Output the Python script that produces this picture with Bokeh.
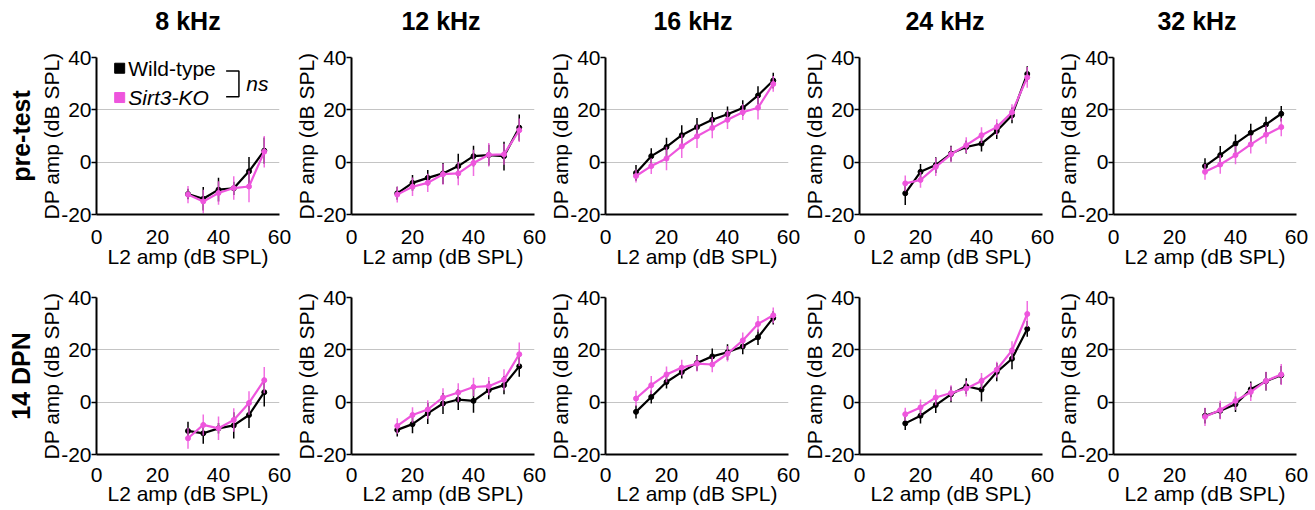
from bokeh.plotting import figure
from bokeh.layouts import row, column
from bokeh.models import Range1d, Title, ColumnDataSource, FixedTicker
from bokeh.core.properties import value
from bokeh.embed import file_html
from bokeh.resources import INLINE

# ---------------- data ----------------
freq_labels = ["8 kHz", "12 kHz", "16 kHz", "24 kHz", "32 kHz"]
row_labels = ["pre-test", "14 DPN"]
series_names = ["Wild-type", "Sirt3-KO"]
x_ticks = [0, 20, 40, 60]
y_ticks = [-20, 0, 20, 40]
y_tick_labels = ["-20", "0", "20", "40"]

x_8 = [30, 35, 40, 45, 50, 55]
x_12 = [15, 20, 25, 30, 35, 40, 45, 50, 55]
x_16 = [10, 15, 20, 25, 30, 35, 40, 45, 50, 55]
x_24 = [15, 20, 25, 30, 35, 40, 45, 50, 55]
x_32 = [30, 35, 40, 45, 50, 55]

# pre-test
wt_pre_8 = [-12.2, -14.0, -10.5, -10.0, -3.5, 4.4]
wt_pre_8_err = [2.0, 4.5, 4.5, 2.5, 5.5, 5.0]
ko_pre_8 = [-12.4, -15.0, -11.8, -9.9, -9.3, 4.0]
ko_pre_8_err = [3.3, 4.5, 4.5, 4.5, 6.0, 6.0]

wt_pre_12 = [-11.9, -7.9, -6.0, -4.3, -1.5, 2.3, 2.7, 2.3, 13.2]
wt_pre_12_err = [2.5, 3.0, 3.0, 4.0, 4.7, 4.0, 4.0, 5.5, 5.0]
ko_pre_12 = [-12.4, -9.4, -7.9, -4.6, -4.3, -0.3, 2.8, 3.0, 12.2]
ko_pre_12_err = [3.0, 3.5, 3.5, 4.0, 4.5, 5.0, 4.5, 4.0, 4.5]

wt_pre_16 = [-4.1, 2.3, 5.8, 10.3, 13.4, 16.2, 18.3, 20.7, 25.5, 31.2]
wt_pre_16_err = [3.0, 3.0, 3.5, 3.8, 3.5, 3.0, 3.0, 3.0, 3.5, 3.0]
ko_pre_16 = [-5.3, -1.5, 1.4, 6.1, 9.9, 13.1, 16.2, 19.1, 20.8, 29.9]
ko_pre_16_err = [2.5, 3.0, 4.5, 4.5, 4.5, 4.0, 3.5, 3.0, 4.5, 3.0]

wt_pre_24 = [-11.9, -3.7, -1.1, 3.3, 5.8, 7.1, 11.9, 17.9, 33.7]
wt_pre_24_err = [4.5, 3.0, 3.0, 3.0, 2.5, 3.0, 3.0, 3.0, 3.0]
ko_pre_24 = [-8.1, -6.8, -1.8, 3.0, 6.5, 10.3, 13.4, 19.1, 32.4]
ko_pre_24_err = [3.0, 3.0, 3.5, 3.0, 3.0, 3.0, 3.0, 3.0, 4.0]

wt_pre_32 = [-1.5, 2.7, 7.1, 11.2, 14.4, 18.5]
wt_pre_32_err = [3.0, 3.5, 3.5, 3.5, 3.0, 3.0]
ko_pre_32 = [-3.7, -0.9, 2.7, 6.8, 10.5, 13.4]
ko_pre_32_err = [3.0, 3.5, 3.5, 3.5, 3.5, 3.5]

# 14 DPN
wt_dpn_8 = [-11.0, -11.9, -10.0, -8.9, -4.9, 3.8]
wt_dpn_8_err = [3.5, 4.0, 2.0, 5.0, 5.0, 5.5]
ko_dpn_8 = [-13.8, -8.7, -10.0, -6.8, -0.3, 8.4]
ko_dpn_8_err = [4.0, 4.0, 4.5, 4.5, 4.5, 5.0]

wt_dpn_12 = [-10.6, -8.4, -4.3, -0.5, 1.0, 0.5, 4.6, 6.5, 13.7]
wt_dpn_12_err = [2.5, 3.5, 4.0, 4.0, 4.0, 4.5, 3.5, 3.5, 4.0]
ko_dpn_12 = [-9.1, -4.9, -2.8, 1.8, 3.7, 5.8, 6.1, 8.6, 18.3]
ko_dpn_12_err = [3.0, 3.0, 3.5, 3.5, 3.5, 3.5, 3.5, 4.0, 4.5]

wt_dpn_16 = [-3.7, 2.0, 7.7, 11.5, 15.0, 17.5, 19.1, 21.3, 24.8, 32.2]
wt_dpn_16_err = [2.5, 2.5, 2.5, 2.5, 3.0, 3.0, 3.0, 3.0, 3.0, 2.5]
ko_dpn_16 = [1.4, 6.5, 10.6, 13.2, 14.7, 14.4, 18.5, 23.6, 29.9, 33.2]
ko_dpn_16_err = [3.0, 3.5, 3.0, 3.0, 3.0, 3.0, 3.0, 3.0, 3.0, 3.0]

wt_dpn_24 = [-8.1, -5.2, -1.1, 3.0, 6.1, 4.8, 11.5, 16.6, 28.0]
wt_dpn_24_err = [2.5, 3.0, 3.0, 3.0, 3.0, 4.5, 3.5, 4.0, 3.0]
ko_dpn_24 = [-4.6, -2.0, 1.8, 3.5, 5.2, 8.1, 12.4, 19.8, 33.7]
ko_dpn_24_err = [2.5, 3.0, 3.0, 3.0, 3.0, 3.0, 3.0, 3.5, 5.0]

wt_dpn_32 = [-5.2, -3.3, -0.8, 4.9, 8.0, 10.3]
wt_dpn_32_err = [3.0, 3.0, 3.0, 3.0, 3.5, 3.5]
ko_dpn_32 = [-5.6, -3.0, 0.5, 3.9, 8.1, 10.6]
ko_dpn_32_err = [3.5, 3.5, 3.5, 3.5, 3.5, 4.0]

x_levels = [x_8, x_12, x_16, x_24, x_32]
wt_rows = [
    [(wt_pre_8, wt_pre_8_err), (wt_pre_12, wt_pre_12_err), (wt_pre_16, wt_pre_16_err),
     (wt_pre_24, wt_pre_24_err), (wt_pre_32, wt_pre_32_err)],
    [(wt_dpn_8, wt_dpn_8_err), (wt_dpn_12, wt_dpn_12_err), (wt_dpn_16, wt_dpn_16_err),
     (wt_dpn_24, wt_dpn_24_err), (wt_dpn_32, wt_dpn_32_err)],
]
ko_rows = [
    [(ko_pre_8, ko_pre_8_err), (ko_pre_12, ko_pre_12_err), (ko_pre_16, ko_pre_16_err),
     (ko_pre_24, ko_pre_24_err), (ko_pre_32, ko_pre_32_err)],
    [(ko_dpn_8, ko_dpn_8_err), (ko_dpn_12, ko_dpn_12_err), (ko_dpn_16, ko_dpn_16_err),
     (ko_dpn_24, ko_dpn_24_err), (ko_dpn_32, ko_dpn_32_err)],
]

# ---------------- style / layout ----------------
FONT = "Liberation Sans"
WT_COLOR = "#000000"
KO_COLOR = "#EE55DD"
FS = "21px"
FRAME_W = 183
FRAME_H = 157
LEFT_BORDERS = [96, 57, 57, 57, 57]
RIGHT_BORDERS = [13, 12, 12, 12, 12]
TITLE_H = 36
TITLE_CENTER = 20            # px from top of page
TOP_BORDERS = [57 - TITLE_H, 23]
BOTTOM_BORDERS = [60, 56]
X_TICK_STANDOFF = [15, 13]
X_LABEL_STANDOFF = [-2, -3]


def draw_series(p, xs, ys, errs, color, alpha):
    src = ColumnDataSource(dict(
        x=xs, y=ys,
        lo=[y - e for y, e in zip(ys, errs)],
        hi=[y + e for y, e in zip(ys, errs)],
    ))
    p.segment(x0="x", y0="lo", x1="x", y1="hi", source=src,
              line_color=color, line_width=1.5, line_alpha=alpha)
    p.line("x", "y", source=src, line_color=color, line_width=2.2)
    p.scatter("x", "y", source=src, size=5, marker="circle",
              fill_color=color, line_color=color)


def make_title(c):
    w = LEFT_BORDERS[c] + FRAME_W + RIGHT_BORDERS[c]
    p = figure(frame_width=w, frame_height=TITLE_H,
               x_range=Range1d(0, w), y_range=Range1d(0, TITLE_H),
               x_axis_type=None, y_axis_type=None,
               output_backend="svg", toolbar_location=None,
               min_border=0)
    p.outline_line_color = None
    p.grid.visible = False
    p.text(x=[LEFT_BORDERS[c] + FRAME_W / 2], y=[TITLE_H - TITLE_CENTER],
           text=[freq_labels[c]], text_font=value(FONT),
           text_font_size="25px", text_font_style="bold",
           text_align="center", text_baseline="middle",
           text_color="black")
    return p


def make_panel(r, c):
    p = figure(
        frame_width=FRAME_W, frame_height=FRAME_H,
        x_range=Range1d(0, 60), y_range=Range1d(-20, 40),
        output_backend="svg", toolbar_location=None,
        min_border_left=LEFT_BORDERS[c],
        min_border_right=RIGHT_BORDERS[c],
        min_border_top=TOP_BORDERS[r],
        min_border_bottom=BOTTOM_BORDERS[r],
    )
    p.outline_line_color = None
    p.background_fill_color = "white"
    p.border_fill_color = "white"

    p.xgrid.grid_line_color = None
    p.ygrid.grid_line_color = "#c4c4c4"
    p.ygrid.grid_line_width = 1

    p.xaxis.ticker = FixedTicker(ticks=x_ticks)
    p.yaxis.ticker = FixedTicker(ticks=y_ticks)
    p.yaxis.major_label_overrides = dict(zip(y_ticks, y_tick_labels))
    for ax in (p.xaxis[0], p.yaxis[0]):
        ax.axis_line_width = 2
        ax.axis_line_color = "black"
        ax.minor_tick_line_color = None
        ax.major_label_text_font = FONT
        ax.major_label_text_font_size = FS
        ax.major_label_text_color = "black"
        ax.axis_label_text_font = FONT
        ax.axis_label_text_font_size = FS
        ax.axis_label_text_font_style = "normal"
        ax.axis_label_text_color = "black"
    p.xaxis.axis_label = "L2 amp (dB SPL)"
    p.yaxis.axis_label = "DP amp (dB SPL)"
    p.xaxis.major_tick_line_color = None
    p.xaxis.major_tick_out = 0
    p.xaxis.major_label_standoff = X_TICK_STANDOFF[r]
    p.xaxis.axis_label_standoff = X_LABEL_STANDOFF[r]
    p.yaxis.major_tick_line_color = "black"
    p.yaxis.major_tick_line_width = 1.5
    p.yaxis.major_tick_out = 5
    p.yaxis.major_tick_in = 0
    p.yaxis.major_label_standoff = 0
    p.yaxis.axis_label_standoff = -5

    xs = x_levels[c]
    wy, we = wt_rows[r][c]
    ky, ke = ko_rows[r][c]
    draw_series(p, xs, wy, we, WT_COLOR, 1.0)
    draw_series(p, xs, ky, ke, KO_COLOR, 0.85)

    if c == 0:
        p.add_layout(Title(text=row_labels[r], align="center",
                           text_font=FONT, text_font_size="25px",
                           text_font_style="bold", text_color="black",
                           standoff=6), "left")
    if r == 0 and c == 0:
        # legend with significance bracket
        p.scatter(x=[7.6], y=[35.9], marker="square", size=10,
                  fill_color=WT_COLOR, line_color=WT_COLOR)
        p.scatter(x=[7.6], y=[24.7], marker="square", size=10,
                  fill_color=KO_COLOR, line_color=KO_COLOR)
        p.text(x=[10.4], y=[35.9], text=[series_names[0]],
               text_font=value(FONT), text_font_size=FS,
               text_baseline="middle", text_color="black")
        p.text(x=[10.4], y=[24.7], text=[series_names[1]],
               text_font=value(FONT), text_font_size=FS,
               text_font_style="italic",
               text_baseline="middle", text_color="black")
        p.line(x=[42.5, 46.7, 46.7, 42.5], y=[34.8, 34.8, 25.0, 25.0],
               line_color="black", line_width=1.5)
        p.text(x=[49.1], y=[30.1], text=["ns"],
               text_font=value(FONT), text_font_size=FS,
               text_font_style="italic",
               text_baseline="middle", text_color="black")
    return p


title_row = row([make_title(c) for c in range(5)], spacing=0)
rows = [title_row]
for r in range(2):
    rows.append(row([make_panel(r, c) for c in range(5)], spacing=0))
layout = column(rows, spacing=0)

open("out.html", "w").write(file_html(layout, INLINE))
